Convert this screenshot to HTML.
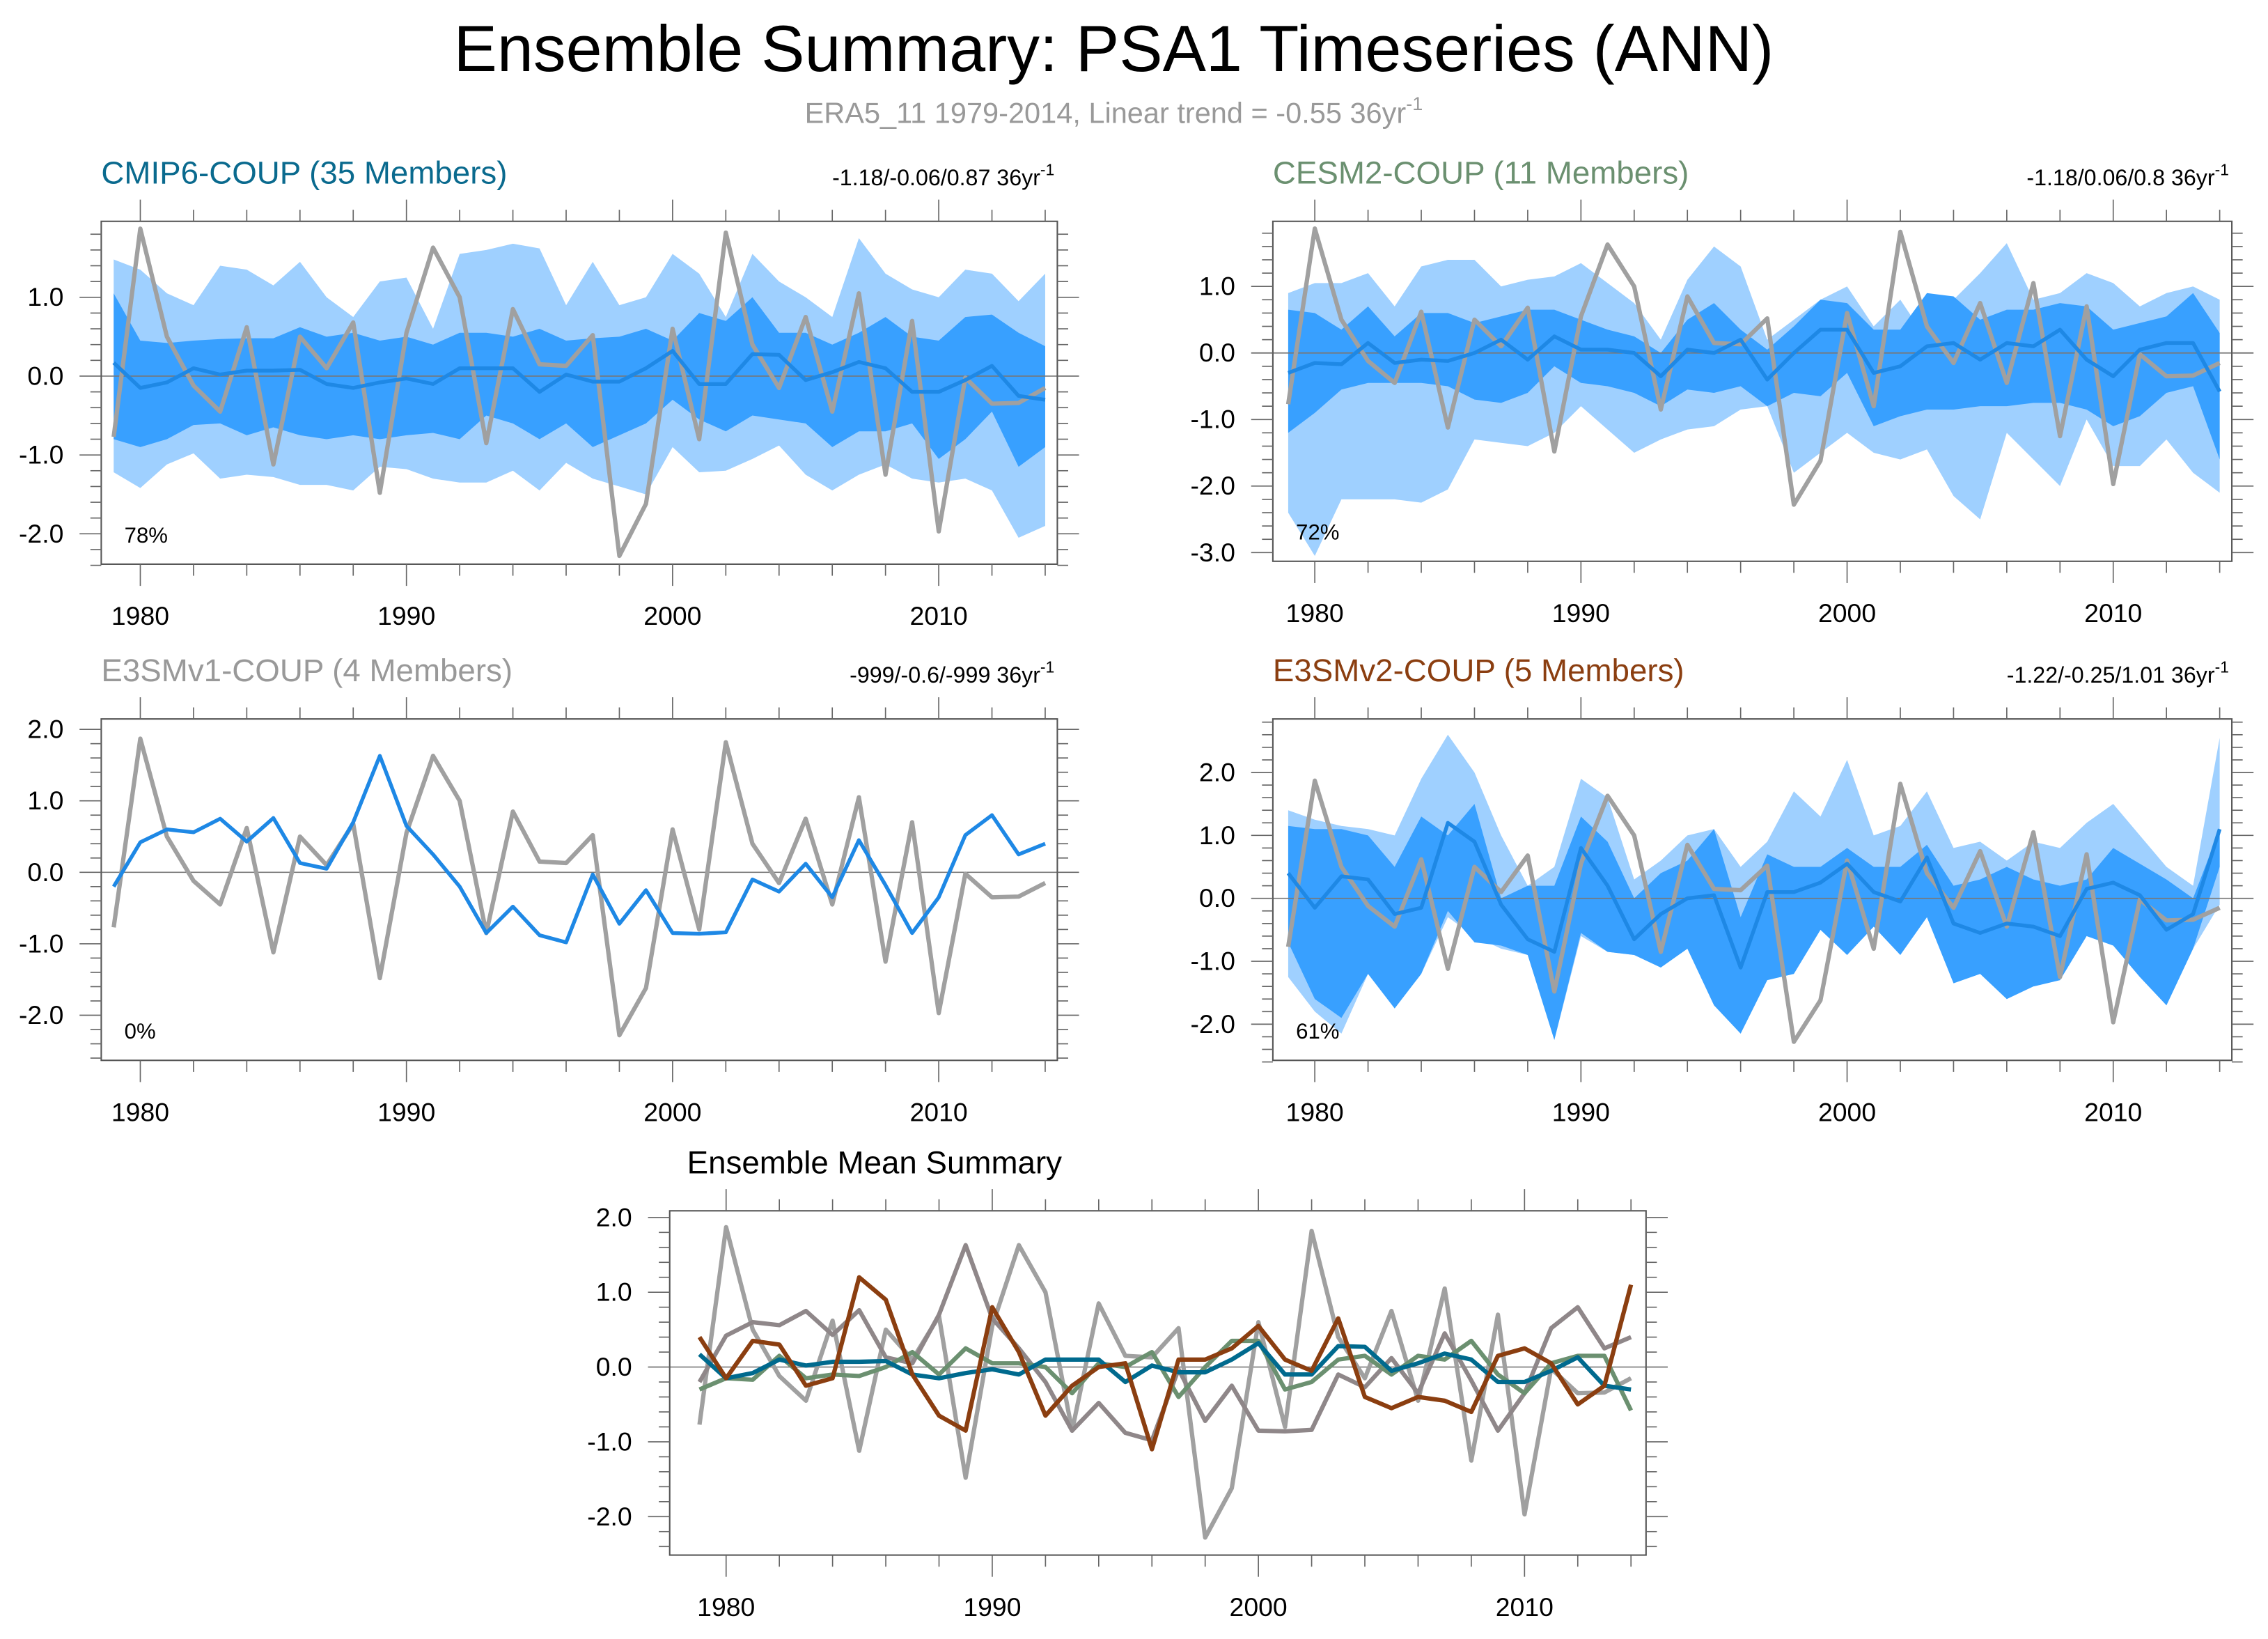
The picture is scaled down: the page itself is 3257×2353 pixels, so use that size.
<!DOCTYPE html>
<html><head><meta charset="utf-8"><style>
html,body{margin:0;padding:0;background:#fff;}
svg{display:block;font-family:"Liberation Sans",sans-serif;}
</style></head><body>
<svg id="chart" width="3257" height="2353" viewBox="0 0 1568 1133" preserveAspectRatio="none" xmlns="http://www.w3.org/2000/svg">
<rect x="0" y="0" width="1568" height="1133" fill="#fff"/>
<text x="770" y="49" font-size="45" text-anchor="middle" fill="#000">Ensemble Summary: PSA1 Timeseries (ANN)</text>
<text x="770" y="85" font-size="20" text-anchor="middle" fill="#999">ERA5_11 1979-2014, Linear trend = -0.55 36yr<tspan dy="-9" font-size="13">-1</tspan></text>
<g id="panels"></g>
</svg>
<script>
const years = [];
for (let y = 1979; y <= 2014; y++) years.push(y);
const obs = [-0.77,1.87,0.5,-0.12,-0.45,0.62,-1.12,0.5,0.1,0.68,-1.48,0.55,1.63,1.0,-0.85,0.85,0.15,0.13,0.52,-2.28,-1.62,0.6,-0.8,1.82,0.4,-0.15,0.75,-0.45,1.05,-1.25,0.7,-1.97,-0.02,-0.35,-0.34,-0.15];

const cmipMean = [0.17,-0.15,-0.08,0.1,0.02,0.07,0.07,0.08,-0.1,-0.15,-0.08,-0.03,-0.1,0.1,0.1,0.1,-0.2,0.02,-0.07,-0.07,0.1,0.32,-0.1,-0.1,0.28,0.27,-0.05,0.05,0.18,0.1,-0.2,-0.2,-0.05,0.13,-0.25,-0.3];
const cmipOutHi = [1.48,1.35,1.05,0.9,1.4,1.35,1.15,1.45,1.0,0.75,1.2,1.25,0.6,1.55,1.6,1.68,1.62,0.9,1.45,0.9,1.0,1.55,1.3,0.75,1.55,1.2,1.0,0.75,1.75,1.3,1.1,1.0,1.35,1.3,0.95,1.3];
const cmipOutLo = [-1.22,-1.42,-1.12,-0.98,-1.3,-1.25,-1.28,-1.38,-1.38,-1.45,-1.15,-1.18,-1.3,-1.35,-1.35,-1.2,-1.45,-1.1,-1.3,-1.4,-1.5,-0.9,-1.22,-1.2,-1.05,-0.88,-1.25,-1.45,-1.25,-1.12,-1.3,-1.35,-1.3,-1.45,-2.05,-1.9];
const cmipInHi = [1.05,0.45,0.42,0.45,0.47,0.48,0.48,0.62,0.5,0.55,0.45,0.5,0.4,0.55,0.55,0.5,0.6,0.45,0.48,0.5,0.6,0.45,0.8,0.7,1.0,0.55,0.55,0.4,0.55,0.75,0.5,0.45,0.75,0.78,0.55,0.38];
const cmipInLo = [-0.8,-0.9,-0.8,-0.62,-0.6,-0.75,-0.65,-0.75,-0.8,-0.75,-0.8,-0.75,-0.72,-0.8,-0.5,-0.6,-0.8,-0.6,-0.9,-0.75,-0.6,-0.3,-0.55,-0.7,-0.5,-0.55,-0.6,-0.9,-0.7,-0.7,-0.6,-1.05,-0.8,-0.45,-1.15,-0.9];

const cesmMean = [-0.3,-0.15,-0.17,0.15,-0.15,-0.1,-0.12,0.0,0.2,-0.1,0.25,0.05,0.05,0.0,-0.35,0.05,0.0,0.2,-0.4,0.0,0.35,0.35,-0.3,-0.2,0.1,0.15,-0.1,0.15,0.1,0.35,-0.1,-0.35,0.05,0.15,0.15,-0.58];
const cesmOutHi = [0.9,1.05,1.05,1.2,0.7,1.3,1.4,1.4,1.0,1.1,1.15,1.35,1.05,0.75,0.2,1.1,1.6,1.3,0.2,0.5,0.8,1.0,0.4,0.8,0.2,0.8,1.2,1.65,0.8,0.9,1.2,1.05,0.7,0.9,1.0,0.8];
const cesmOutLo = [-2.4,-3.05,-2.2,-2.2,-2.2,-2.25,-2.05,-1.3,-1.35,-1.4,-1.2,-0.8,-1.15,-1.5,-1.3,-1.15,-1.1,-0.85,-0.8,-1.8,-1.5,-1.2,-1.5,-1.6,-1.45,-2.15,-2.5,-1.2,-1.6,-2.0,-1.0,-1.7,-1.7,-1.3,-1.8,-2.1];
const cesmInHi = [0.65,0.6,0.35,0.7,0.25,0.6,0.6,0.45,0.55,0.65,0.65,0.5,0.35,0.25,0.0,0.5,0.75,0.35,0.05,0.4,0.8,0.75,0.35,0.35,0.9,0.85,0.5,0.65,0.65,0.75,0.7,0.35,0.45,0.55,0.9,0.3];
const cesmInLo = [-1.2,-0.9,-0.55,-0.45,-0.45,-0.45,-0.5,-0.7,-0.75,-0.6,-0.2,-0.45,-0.5,-0.6,-0.8,-0.55,-0.6,-0.5,-0.8,-0.6,-0.65,-0.3,-1.1,-0.95,-0.85,-0.85,-0.8,-0.8,-0.75,-0.75,-0.85,-1.1,-0.95,-0.6,-0.5,-1.6];

const v1Mean = [-0.2,0.42,0.6,0.56,0.75,0.43,0.76,0.13,0.05,0.7,1.63,0.65,0.25,-0.2,-0.85,-0.48,-0.88,-0.98,-0.03,-0.72,-0.25,-0.85,-0.86,-0.84,-0.1,-0.27,0.12,-0.35,0.45,-0.18,-0.85,-0.35,0.52,0.8,0.25,0.4];

const v2Mean = [0.4,-0.15,0.35,0.3,-0.25,-0.15,1.2,0.9,-0.1,-0.65,-0.85,0.8,0.2,-0.65,-0.25,0.0,0.05,-1.1,0.1,0.1,0.25,0.55,0.1,-0.05,0.65,-0.4,-0.55,-0.4,-0.45,-0.6,0.15,0.25,0.05,-0.5,-0.25,1.1];
const v2OutHi = [1.4,1.25,1.15,1.1,1.0,1.9,2.6,2.0,1.0,0.2,0.5,1.9,1.6,0.3,0.6,1.0,1.1,0.5,0.9,1.7,1.3,2.2,1.0,1.15,1.7,0.8,0.9,0.6,0.9,0.8,1.2,1.5,1.0,0.5,0.2,2.55];
const v2OutLo = [-1.25,-1.8,-2.15,-1.2,-1.75,-1.2,-0.3,-0.6,-0.8,-0.9,-2.25,-0.6,-0.85,-0.9,-1.1,-0.8,-1.7,-2.15,-1.3,-1.2,-0.5,-0.9,-0.45,-0.9,-0.3,-1.35,-1.2,-1.6,-1.4,-1.3,-0.6,-0.75,-1.25,-1.7,-0.8,-0.1];
const v2InHi = [1.15,1.1,1.1,1.0,0.5,1.3,1.0,1.5,0.0,0.2,0.2,1.3,0.9,0.0,0.4,0.6,1.1,-0.3,0.7,0.5,0.5,0.8,0.5,0.5,0.85,0.2,0.3,0.5,0.3,0.2,0.3,0.8,0.55,0.3,0.0,1.1];
const v2InLo = [-0.7,-1.6,-1.9,-1.2,-1.75,-1.2,-0.2,-0.7,-0.75,-0.9,-2.25,-0.55,-0.85,-0.9,-1.1,-0.8,-1.7,-2.15,-1.3,-1.2,-0.5,-0.9,-0.45,-0.9,-0.3,-1.35,-1.2,-1.6,-1.4,-1.3,-0.6,-0.75,-1.25,-1.7,-0.8,0.5];

const yTicks1 = [1.0,0.0,-1.0,-2.0];
const yTicks2 = [1.0,0.0,-1.0,-2.0,-3.0];
const yTicks3 = [2.0,1.0,0.0,-1.0,-2.0];
const xTickYears = [1980,1990,2000,2010];

const NS = "http://www.w3.org/2000/svg";
const root = document.getElementById('panels');
function mk(tag, attrs, parent){
  const e = document.createElementNS(NS, tag);
  for (const k in attrs) e.setAttribute(k, attrs[k]);
  (parent||root).appendChild(e);
  return e;
}
const LIGHT = '#9fd0ff', DARK = '#38a0ff', MEANC = '#1e88e5', OBSC = '#a0a0a0';

function panel(cfg){
  const g = mk('g', {});
  
  
  const x = yr => cfg.x0 + (yr - 1980) * cfg.dx;
  const y = v => cfg.y0 - v * cfg.dy;
  cfg.bands.forEach(b => {
    let d = '';
    years.forEach((yr,i) => { d += (i ? 'L' : 'M') + x(yr).toFixed(2) + ',' + y(b.hi[i]).toFixed(2); });
    for (let i = years.length-1; i >= 0; i--) d += 'L' + x(years[i]).toFixed(2) + ',' + y(b.lo[i]).toFixed(2);
    const p = mk('path', {d: d + 'Z', fill: b.color}, g);
    
    
  });
  const z = mk('line', {x1: cfg.L, x2: cfg.R, y1: y(0), y2: y(0), stroke: '#777', 'stroke-width': 0.8}, g);
  
  
  cfg.lines.forEach(s => {
    const pts = years.map((yr,i) => x(yr).toFixed(2) + ',' + y(s.vals[i]).toFixed(2)).join(' ');
    const pl = mk('polyline', {points: pts, fill: 'none', stroke: s.color, 'stroke-width': s.w || 3, 'stroke-linejoin': 'round'}, g);
    
    
  });
  const bx = mk('rect', {x: cfg.L, y: cfg.T, width: cfg.R - cfg.L, height: cfg.B - cfg.T, fill: 'none', stroke: '#555', 'stroke-width': 1}, g);
  
  
  for (let yr = 1980; yr <= 2014; yr += 2) {
    const maj = (yr % 10 === 0);
    const len = maj ? 15 : 8;
    const xx = x(yr);
    mk('line', {x1: xx, x2: xx, y1: cfg.B, y2: cfg.B + len, stroke: '#666', 'stroke-width': 0.8}, g);
    mk('line', {x1: xx, x2: xx, y1: cfg.T, y2: cfg.T - len, stroke: '#666', 'stroke-width': 0.8}, g);
  }
  xTickYears.forEach(yr => {
    const t = mk('text', {x: x(yr), y: cfg.B + 42, 'font-size': 18, 'text-anchor': 'middle', fill: '#000'}, g);
    t.textContent = String(yr);
    
    
  });
  for (let k = Math.ceil(cfg.vmin*5); k <= Math.floor(cfg.vmax*5); k++) {
    const v = k / 5;
    const yy = y(v);
    const maj = (k % 5 === 0);
    const len = maj ? 15 : 7.5;
    mk('line', {x1: cfg.L, x2: cfg.L - len, y1: yy, y2: yy, stroke: '#666', 'stroke-width': 0.8}, g);
    mk('line', {x1: cfg.R, x2: cfg.R + len, y1: yy, y2: yy, stroke: '#666', 'stroke-width': 0.8}, g);
  }
  cfg.yTicks.forEach(v => {
    const t = mk('text', {x: cfg.L - 26, y: y(v) + 6, 'font-size': 18, 'text-anchor': 'end', fill: '#000'}, g);
    t.textContent = v.toFixed(1);
    
    
  });
  const tt = mk('text', {x: cfg.L + (cfg.titleDx || 0), y: cfg.T - 26, 'font-size': 22, fill: cfg.titleColor}, g);
  tt.textContent = cfg.title;
  
  
  if (cfg.trend) {
    const tr = mk('text', {x: cfg.R - 2, y: cfg.T - 25, 'font-size': 15.5, 'text-anchor': 'end', fill: '#000'}, g);
    tr.textContent = cfg.trend + ' 36yr';
    const sup = mk('tspan', {dy: -7, 'font-size': 11}, tr);
    sup.textContent = '-1';
    
    
  }
  if (cfg.pct) {
    const pc = mk('text', {x: cfg.L + 16, y: cfg.B - 15, 'font-size': 15, fill: '#000'}, g);
    pc.textContent = cfg.pct;
    
    
  }
}

panel({name:'panel-cmip6', L:70, R:731, T:153, B:390, x0:97, dx:18.4, y0:260, dy:54.5, vmin:-2.4, vmax:1.8, yTicks:yTicks1,
  title:'CMIP6-COUP (35 Members)', titleColor:'#0a6a8e', trend:'-1.18/-0.06/0.87', pct:'78%',
  bands:[{hi:cmipOutHi, lo:cmipOutLo, color:LIGHT, name:'cmip6-outer-band'},{hi:cmipInHi, lo:cmipInLo, color:DARK, name:'cmip6-inner-band'}],
  lines:[{vals:obs, color:OBSC, name:'era5-obs-line'},{vals:cmipMean, color:MEANC, name:'cmip6-mean-line', w:2.6}]});

panel({name:'panel-cesm2', L:880, R:1543, T:153, B:388, x0:909, dx:18.4, y0:244, dy:46, vmin:-3.0, vmax:1.8, yTicks:yTicks2,
  title:'CESM2-COUP (11 Members)', titleColor:'#6b9070', trend:'-1.18/0.06/0.8', pct:'72%',
  bands:[{hi:cesmOutHi, lo:cesmOutLo, color:LIGHT, name:'cesm2-outer-band'},{hi:cesmInHi, lo:cesmInLo, color:DARK, name:'cesm2-inner-band'}],
  lines:[{vals:obs, color:OBSC, name:'era5-obs-line'},{vals:cesmMean, color:MEANC, name:'cesm2-mean-line', w:2.6}]});

panel({name:'panel-e3smv1', L:70, R:731, T:497, B:733, x0:97, dx:18.4, y0:603, dy:49.4, vmin:-2.6, vmax:2.0, yTicks:yTicks3,
  title:'E3SMv1-COUP (4 Members)', titleColor:'#999999', trend:'-999/-0.6/-999', pct:'0%',
  bands:[],
  lines:[{vals:obs, color:OBSC, name:'era5-obs-line'},{vals:v1Mean, color:MEANC, name:'e3smv1-mean-line', w:2.6}]});

panel({name:'panel-e3smv2', L:880, R:1543, T:497, B:733, x0:909, dx:18.4, y0:621, dy:43.5, vmin:-2.6, vmax:2.8, yTicks:yTicks3,
  title:'E3SMv2-COUP (5 Members)', titleColor:'#8b3e10', trend:'-1.22/-0.25/1.01', pct:'61%',
  bands:[{hi:v2OutHi, lo:v2OutLo, color:LIGHT, name:'e3smv2-outer-band'},{hi:v2InHi, lo:v2InLo, color:DARK, name:'e3smv2-inner-band'}],
  lines:[{vals:obs, color:OBSC, name:'era5-obs-line'},{vals:v2Mean, color:MEANC, name:'e3smv2-mean-line', w:2.6}]});

panel({name:'panel-ensemble-mean', L:463, R:1138, T:837, B:1075, x0:502, dx:18.4, y0:945, dy:51.7, vmin:-2.4, vmax:2.0, yTicks:yTicks3,
  title:'Ensemble Mean Summary', titleColor:'#000', titleDx:12, trend:null, pct:null,
  bands:[],
  lines:[{vals:obs, color:OBSC, name:'era5-obs-line'},{vals:v1Mean, color:'#8f8789', name:'e3smv1-mean-line'},
         {vals:cesmMean, color:'#6b9070', name:'cesm2-mean-line'},{vals:cmipMean, color:'#006a8e', name:'cmip6-mean-line'},
         {vals:v2Mean, color:'#8b3e10', name:'e3smv2-mean-line'}]});
</script>
</body></html>
